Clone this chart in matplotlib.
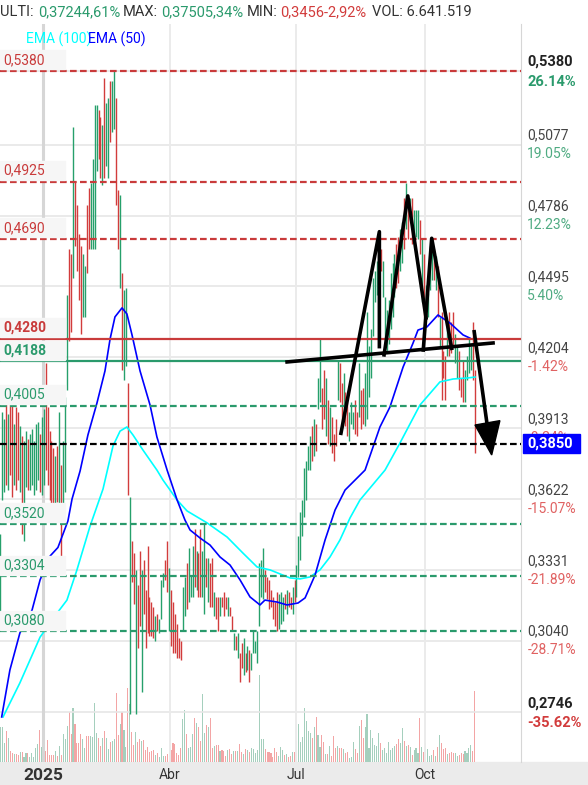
import numpy as np
import matplotlib.pyplot as plt
from matplotlib.patches import Rectangle
from matplotlib.transforms import ScaledTranslation

plt.rcParams['font.family'] = ['Roboto', 'DejaVu Sans']

# daily high / low, one entry per session (Dec 2024 - Nov 2025)
highs = [0.348, 0.398, 0.395, 0.403, 0.397, 0.404, 0.401, 0.393, 0.400, 0.398,
         0.392, 0.388, 0.386, 0.390, 0.387, 0.389, 0.391, 0.386, 0.393, 0.394,
         0.389, 0.396, 0.399, 0.418, 0.400, 0.390, 0.386, 0.383, 0.380, 0.384,
         0.398, 0.376, 0.386, 0.404,
         0.446, 0.465, 0.463, 0.515, 0.493, 0.483, 0.471, 0.466, 0.463, 0.458,
         0.483, 0.490, 0.492, 0.502, 0.524, 0.524, 0.522, 0.519, 0.516, 0.535,
         0.525, 0.527, 0.534, 0.534, 0.538, 0.527, 0.489, 0.487, 0.455, 0.448,
         0.449, 0.410,
         0.363,
         0.345, 0.340, 0.333, 0.327, 0.341, 0.333, 0.337, 0.325, 0.343, 0.322,
         0.320, 0.318, 0.314, 0.315, 0.313, 0.329, 0.332, 0.337, 0.345, 0.334,
         0.325, 0.320, 0.315, 0.311, 0.305, 0.304, 0.326, 0.330, 0.336, 0.342,
         0.331, 0.343, 0.350, 0.341, 0.340, 0.350, 0.341, 0.352, 0.338, 0.338,
         0.336, 0.338, 0.324, 0.322, 0.322, 0.322, 0.322, 0.324, 0.322, 0.322,
         0.318, 0.314, 0.307, 0.306, 0.307, 0.299, 0.303, 0.305, 0.299, 0.302,
         0.300, 0.299, 0.308, 0.304, 0.308, 0.336, 0.337, 0.342, 0.333, 0.330,
         0.329, 0.325, 0.322, 0.320, 0.324, 0.323, 0.324, 0.322, 0.323, 0.325,
         0.324, 0.322, 0.326, 0.329, 0.335,
         0.347, 0.357, 0.362, 0.375, 0.378, 0.384, 0.388, 0.392, 0.395, 0.393,
         0.412, 0.428, 0.408, 0.415, 0.412, 0.403, 0.400, 0.396, 0.389, 0.395,
         0.419, 0.418, 0.410, 0.414, 0.406, 0.402, 0.398, 0.402, 0.398, 0.403,
         0.398, 0.418, 0.407, 0.408, 0.414, 0.439, 0.425, 0.432, 0.453, 0.456,
         0.460, 0.465, 0.465, 0.460, 0.445, 0.440, 0.444, 0.455, 0.459, 0.463,
         0.467, 0.470, 0.473, 0.476, 0.486, 0.492, 0.486, 0.486, 0.486, 0.481,
         0.481, 0.481, 0.477, 0.469, 0.463, 0.450, 0.447, 0.466, 0.469, 0.465,
         0.462, 0.458, 0.437, 0.439, 0.423, 0.421, 0.433, 0.439, 0.435, 0.439,
         0.430, 0.425, 0.423, 0.412, 0.419, 0.415, 0.421, 0.428, 0.425, 0.435,
         0.415]
lows = [0.313, 0.362, 0.365, 0.368, 0.366, 0.372, 0.363, 0.368, 0.366, 0.370,
        0.365, 0.348, 0.345, 0.367, 0.366, 0.366, 0.368, 0.364, 0.366, 0.370,
        0.365, 0.364, 0.368, 0.374, 0.368, 0.362, 0.359, 0.358, 0.360, 0.361,
        0.360, 0.338, 0.358, 0.365,
        0.407, 0.427, 0.431, 0.453, 0.466, 0.456, 0.444, 0.430, 0.437, 0.437,
        0.455, 0.465, 0.465, 0.465, 0.465, 0.497, 0.502, 0.494, 0.491, 0.494,
        0.499, 0.494, 0.509, 0.513, 0.514, 0.483, 0.465, 0.449, 0.415, 0.411,
        0.417, 0.364,
        0.274,
        0.328, 0.319, 0.274, 0.301, 0.310, 0.283, 0.315, 0.301, 0.307, 0.306,
        0.306, 0.305, 0.304, 0.308, 0.307, 0.313, 0.326, 0.329, 0.324, 0.308,
        0.302, 0.299, 0.299, 0.297, 0.297, 0.296, 0.308, 0.314, 0.317, 0.320,
        0.322, 0.322, 0.326, 0.325, 0.322, 0.322, 0.322, 0.315, 0.326, 0.320,
        0.318, 0.318, 0.314, 0.313, 0.308, 0.314, 0.318, 0.314, 0.317, 0.314,
        0.314, 0.308, 0.300, 0.300, 0.297, 0.287, 0.293, 0.290, 0.291, 0.292,
        0.287, 0.292, 0.299, 0.299, 0.295, 0.310, 0.322, 0.321, 0.324, 0.321,
        0.317, 0.318, 0.313, 0.310, 0.308, 0.309, 0.311, 0.312, 0.317, 0.315,
        0.318, 0.317, 0.315, 0.320, 0.322,
        0.330, 0.337, 0.347, 0.355, 0.362, 0.374, 0.374, 0.378, 0.380, 0.382,
        0.399, 0.402, 0.391, 0.395, 0.388, 0.385, 0.384, 0.381, 0.378, 0.384,
        0.403, 0.402, 0.393, 0.398, 0.392, 0.388, 0.386, 0.393, 0.391, 0.389,
        0.388, 0.396, 0.391, 0.393, 0.392, 0.395, 0.404, 0.412, 0.429, 0.443,
        0.446, 0.447, 0.456, 0.445, 0.425, 0.423, 0.426, 0.432, 0.437, 0.445,
        0.449, 0.451, 0.456, 0.459, 0.465, 0.473, 0.469, 0.477, 0.467, 0.467,
        0.470, 0.469, 0.463, 0.443, 0.437, 0.436, 0.437, 0.448, 0.452, 0.452,
        0.448, 0.437, 0.425, 0.403, 0.412, 0.403, 0.421, 0.421, 0.422, 0.425,
        0.418, 0.412, 0.407, 0.404, 0.402, 0.402, 0.411, 0.414, 0.415, 0.411,
        0.381]
# G = up day, R = down day
bar_dir = ("GGGRGRRGRRGRGGRGGGGGRGGRRRRRGRGRGG"
           "GRRGRRRRGGRRGGGGRRGRGGRGGRRGRGGR"
           "G"
           "RRGRRGRRRRRRGRGGGRRGRRRRRRGGRGGGRGRRGGRGRRGRRGRRRG"
           "RRGRGRRGRGRGGGGGGGRRRRRRRGGGRGRRGRG"
           "GGGGGGGRGRGGRRGRGRRRGRRGRRGGGRRGRRGGGGGGGGRGGGGGGG"
           "RRGGRGRGRGGGRGRGGGGRGRGRRRGRRRGGRRRGGGGRR")
# volume, millions of shares
volume = [3.31, 3.31, 1.75, 2.93, 2.28, 1.06, 0.81, 0.75, 0.75, 0.62,
          0.97, 0.97, 0.44, 0.81, 0.87, 0.50, 0.87, 0.50, 1.34, 1.68,
          3.00, 1.44, 1.68, 1.06, 2.06, 0.66, 0.66, 0.66, 1.06, 0.56,
          1.50, 0.66, 2.59, 2.15, 3.40, 4.71, 2.62, 5.05, 3.53, 1.81,
          1.81, 2.62, 2.20, 1.34, 2.43, 2.43, 2.43, 2.37, 5.52, 2.75,
          2.28, 1.50, 2.25, 2.90, 2.28, 1.22, 1.90, 1.97, 2.15, 6.46,
          2.53, 3.56, 4.71, 3.00, 1.44, 6.96, 5.40, 2.84, 1.59, 2.81,
          1.90, 2.15, 1.97, 2.06, 1.12, 1.44, 0.97, 1.06, 1.12, 0.66,
          0.81, 0.50, 1.34, 0.56, 0.56, 0.75, 0.66, 1.12, 1.81, 1.68,
          0.87, 0.66, 1.28, 4.02, 4.87, 2.59, 1.31, 1.37, 2.59, 4.09,
          3.62, 3.31, 1.97, 6.36, 2.68, 3.46, 3.31, 4.15, 1.34, 1.50,
          1.59, 1.59, 1.06, 1.10, 1.06, 0.56, 1.09, 1.19, 0.75, 1.06,
          1.03, 1.06, 1.68, 0.90, 0.75, 1.22, 1.12, 0.90,
          1.28, 1.22, 0.87, 1.12, 8.14, 2.15, 2.15, 1.22, 0.94, 0.94,
          0.81, 0.44, 1.28, 0.94, 0.56, 1.40, 1.12, 0.66, 0.75, 0.47,
          0.56, 0.94, 0.94, 1.97, 3.56, 1.87, 2.34, 5.05, 3.84, 2.90,
          2.71, 2.25, 3.28, 4.21, 2.53, 1.44, 2.53, 1.87, 0.75, 0.75,
          1.50, 0.56, 2.43, 1.31, 1.50, 1.31, 1.31, 1.22, 0.84, 0.94,
          0.37, 0.47, 1.87, 1.22, 0.84, 3.37, 3.93, 2.25, 3.28, 4.49,
          1.31, 3.00, 2.25, 1.59, 1.50, 2.71, 1.78, 1.12, 1.31, 0.84,
          1.87, 1.12, 1.31, 1.50, 1.68, 2.15, 1.78, 3.18, 1.97, 1.50,
          1.59, 1.40, 0.66, 1.12, 1.31, 0.84, 4.12, 1.40, 0.94, 1.78,
          1.22, 0.56, 0.66, 1.12, 0.56, 1.40, 2.53, 1.78, 1.22, 1.31,
          0.75, 0.84, 0.97, 0.84, 0.84, 0.56, 0.66, 0.84, 0.75, 1.03,
          0.84, 1.31, 1.59, 1.03, 6.65]

# moving averages (session index, price)
ema50_x = [0.6, 4.8, 9.9, 16.1, 20.2, 25.3, 29.3, 34.4, 36.5, 40.6,
           44.6, 49.2, 53.3, 55.9, 58.4, 62.0, 64.5, 67.1, 71.2, 76.3,
           79.8, 85.0, 90.1, 94.1, 96.7, 101.8, 106.9, 112.0, 117.1, 122.2,
           127.3, 132.4, 134.9, 141.1, 146.2, 151.8, 155.4, 160.5, 165.6, 170.7,
           175.8, 180.9, 186.0, 193.6, 198.7, 205.4, 210.5, 213.0, 217.6, 223.2,
           229.3, 236.0, 239.5]
ema50_y = [0.2727, 0.2920, 0.3072, 0.3166, 0.3290, 0.3388, 0.3423, 0.3532, 0.3622, 0.3737,
           0.3885, 0.4016, 0.4148, 0.4279, 0.4370, 0.4407, 0.4382, 0.4296, 0.4148, 0.4008,
           0.3877, 0.3741, 0.3618, 0.3536, 0.3495, 0.3462, 0.3433, 0.3384, 0.3351, 0.3290,
           0.3220, 0.3187, 0.3207, 0.3199, 0.3187, 0.3195, 0.3216, 0.3310, 0.3454, 0.3577,
           0.3659, 0.3700, 0.3741, 0.3918, 0.4000, 0.4164, 0.4263, 0.4316, 0.4329, 0.4378,
           0.4345, 0.4296, 0.4283]
ema100_x = [1.3, 9.9, 20.2, 29.3, 33.9, 39.0, 45.7, 52.3, 57.4, 61.0,
            64.5, 67.6, 72.7, 79.8, 82.9, 90.1, 95.2, 105.4, 115.6, 123.7,
            130.9, 137.5, 147.7, 152.8, 157.9, 163.0, 168.1, 173.2, 178.3, 183.4,
            188.5, 196.2, 203.8, 214.0, 224.2, 230.9, 238.0, 242.1]
ema100_y = [0.2727, 0.2867, 0.3055, 0.3158, 0.3207, 0.3331, 0.3511, 0.3663, 0.3840, 0.3901,
            0.3918, 0.3885, 0.3823, 0.3741, 0.3700, 0.3618, 0.3573, 0.3524, 0.3466, 0.3400,
            0.3343, 0.3331, 0.3298, 0.3294, 0.3302, 0.3331, 0.3384, 0.3454, 0.3544, 0.3618,
            0.3667, 0.3741, 0.3852, 0.4008, 0.4103, 0.4115, 0.4119, 0.4123]

# horizontal levels
levels = [0.5380, 0.4925, 0.4690, 0.4280, 0.4188, 0.4005, 0.3520, 0.3304, 0.3080]
level_text = ['0,5380', '0,4925', '0,4690', '0,4280', '0,4188', '0,4005', '0,3520', '0,3304', '0,3080']
level_color = ['r', 'r', 'r', 'r', 'g', 'g', 'g', 'g', 'g']
level_solid = [False, False, False, True, True, False, False, False, False]
last_price = 0.3850

# right axis
axis_values = [0.5380, 0.5077, 0.4786, 0.4495, 0.4204, 0.3913, 0.3622, 0.3331, 0.3040, 0.2746]
axis_text = ['0,5380', '0,5077', '0,4786', '0,4495', '0,4204', '0,3913', '0,3622', '0,3331', '0,3040', '0,2746']
axis_pct = ['26.14%', '19.05%', '12.23%', '5.40%', '-1.42%', '-8.24%', '-15.07%', '-21.89%', '-28.71%', '-35.62%']

# months (session index of first session)
month_pos = [21.7, 86.5, 150.8, 216.6]
month_labels = ['2025', 'Abr', 'Jul', 'Oct']

# hand-drawn head & shoulders
neck_x, neck_y = [146.2, 251.3], [0.4185, 0.4263]
hs_x = [[173.7, 193.3, 193.3], [195.7, 207.8, 217.1], [215.7, 220.0, 230.2], [241.7, 248.9]]
hs_y = [[0.3892, 0.4720, 0.4248], [0.4214, 0.4867, 0.4366], [0.4234, 0.4693, 0.4241], [0.4309, 0.3892]]
head_x, head_y = [242.1, 254.8, 250.6], [0.3926, 0.3944, 0.3803]

GREEN, RED = '#26a06b', '#d23c3c'
W, H = 588, 785
top, bottom, right = 24, 762, 521

fig = plt.figure(figsize=(W / 100, H / 100), dpi=100)
fig.patches.append(Rectangle((0, 0), 1, (H - bottom) / H, transform=fig.transFigure,
                             color='#ebebeb', zorder=0))
ax = fig.add_axes([0, (H - bottom) / H, right / W, (bottom - top) / H])
vax = ax.twinx()
ax.set_zorder(2)
ax.patch.set_visible(False)
vax.set_zorder(1)

ax.set_xlim(-0.255, 265.56)
ax.set_ylim(0.2542, 0.5573)
pp = (0.5573 - 0.2542) / (bottom - top)  # price per pixel

x = np.arange(len(highs))
up = np.array([c == 'G' for c in bar_dir])

# volume
vax.bar(x, volume, width=0.55, color=np.where(up, '#a5cfbd', '#f3a5a5'), linewidth=0)
vax.set_ylim(0, 69.1)
vax.axis('off')

# grid
for v in axis_values:
    ax.axhline(v, color='#e6e6e6', lw=1.2, zorder=0)
for i, m in enumerate(month_pos):
    ax.axvline(m, color='#d6d6d6' if i == 0 else '#ebebeb', lw=2.2 if i == 0 else 1.4, zorder=0)

# price bars
ax.vlines(x, lows, highs, colors=np.where(up, GREEN, RED), lw=1.0, zorder=2)

# EMAs
ax.plot(ema100_x, ema100_y, color='#00ffff', lw=1.2, zorder=3)
ax.plot(ema50_x, ema50_y, color='#0000ff', lw=1.2, zorder=3)

# levels with labels on the left
ytr = ax.get_yaxis_transform()
for lv, txt, c, solid in zip(levels, level_text, level_color, level_solid):
    col = '#c93b3b' if c == 'r' else '#2a9a6c'
    ls = '-' if solid else (0, (3, 1.5))
    ax.axhline(lv, color=col, lw=1.6, ls=ls, zorder=4)
    ax.add_patch(Rectangle((0, lv + 1.5 * pp), 65 / right, 19 * pp, transform=ytr,
                           color='#f6f6f6', zorder=5))
    ax.text(3 / right, lv + 11 * pp, txt, transform=ytr, color=col, fontsize=10,
            fontweight='bold' if solid else 'normal', va='center', ha='left', zorder=6)
ax.axhline(last_price, color='black', lw=1.6, ls=(0, (3, 1.5)), zorder=4)

# head & shoulders drawing
ax.plot(neck_x, neck_y, color='black', lw=2.6, zorder=7)
for px_, py_ in zip(hs_x, hs_y):
    ax.plot(px_, py_, color='black', lw=2.6, zorder=7)
ax.fill(head_x, head_y, color='black', zorder=7)

# right axis labels
for i, (v, t, p) in enumerate(zip(axis_values, axis_text, axis_pct)):
    bold = i in (0, len(axis_values) - 1)
    neg = p.startswith('-')
    pc = ('#d23c3c' if bold else '#e06262') if neg else ('#2a9a6c' if bold else '#4fab82')
    ax.annotate(t, xy=(1, v), xycoords=ytr, xytext=(4.5, 6.5), textcoords='offset points',
                va='center', ha='left', fontsize=10.5 if bold else 10,
                color='#222222' if bold else '#444444',
                fontweight='bold' if bold else 'normal', annotation_clip=False, zorder=8)
    ax.annotate(p, xy=(1, v), xycoords=ytr, xytext=(4.5, -7 if not bold else -8),
                textcoords='offset points', va='center', ha='left',
                fontsize=10.5 if bold else 10, color=pc,
                fontweight='bold' if bold else 'normal', annotation_clip=False, zorder=8)

# last price tag
ax.add_patch(Rectangle((1 + 2 / right, last_price - 9.5 * pp), 57 / right, 19 * pp,
                       transform=ytr, color='#0000ff', clip_on=False, zorder=10))
ax.text(1 + 6 / right, last_price, '0,3850', transform=ytr, color='white', fontsize=10.5,
        fontweight='bold', va='center', ha='left', zorder=11)

# x axis
ax.set_xticks(month_pos)
labels = ax.set_xticklabels(month_labels, fontsize=10, color='#333333')
labels[0].set_fontweight('bold')
labels[0].set_fontsize(12.5)
labels[0].set_transform(labels[0].get_transform() + ScaledTranslation(0.05, 0, fig.dpi_scale_trans))
ax.tick_params(axis='x', length=0, pad=4)
ax.set_yticks([])
for s in ['top', 'left', 'bottom']:
    ax.spines[s].set_visible(False)
ax.spines['right'].set_color('#d6d6d6')

# header
hy = 1 - 12 / H
header = [('ULTI:', '#333333', 0), ('0,37244,61%', '#2a9a6c', 38), ('MAX:', '#333333', 123),
          ('0,37505,34%', '#2a9a6c', 161), ('MIN:', '#333333', 247),
          ('0,3456-2,92%', '#d23c3c', 280), ('VOL: 6.641.519', '#333333', 372)]
for txt, col, hx in header:
    fig.text(hx / W, hy, txt, color=col, fontsize=10.5, va='center', ha='left')

# legend
fig.text(25.5 / W, 1 - 39 / H, 'EMA (100)', color='#00ffff', fontsize=10, va='center')
fig.text(88.5 / W, 1 - 39 / H, 'EMA (50)', color='#0000ff', fontsize=10, va='center')

fig.savefig('out.png', dpi=100)
